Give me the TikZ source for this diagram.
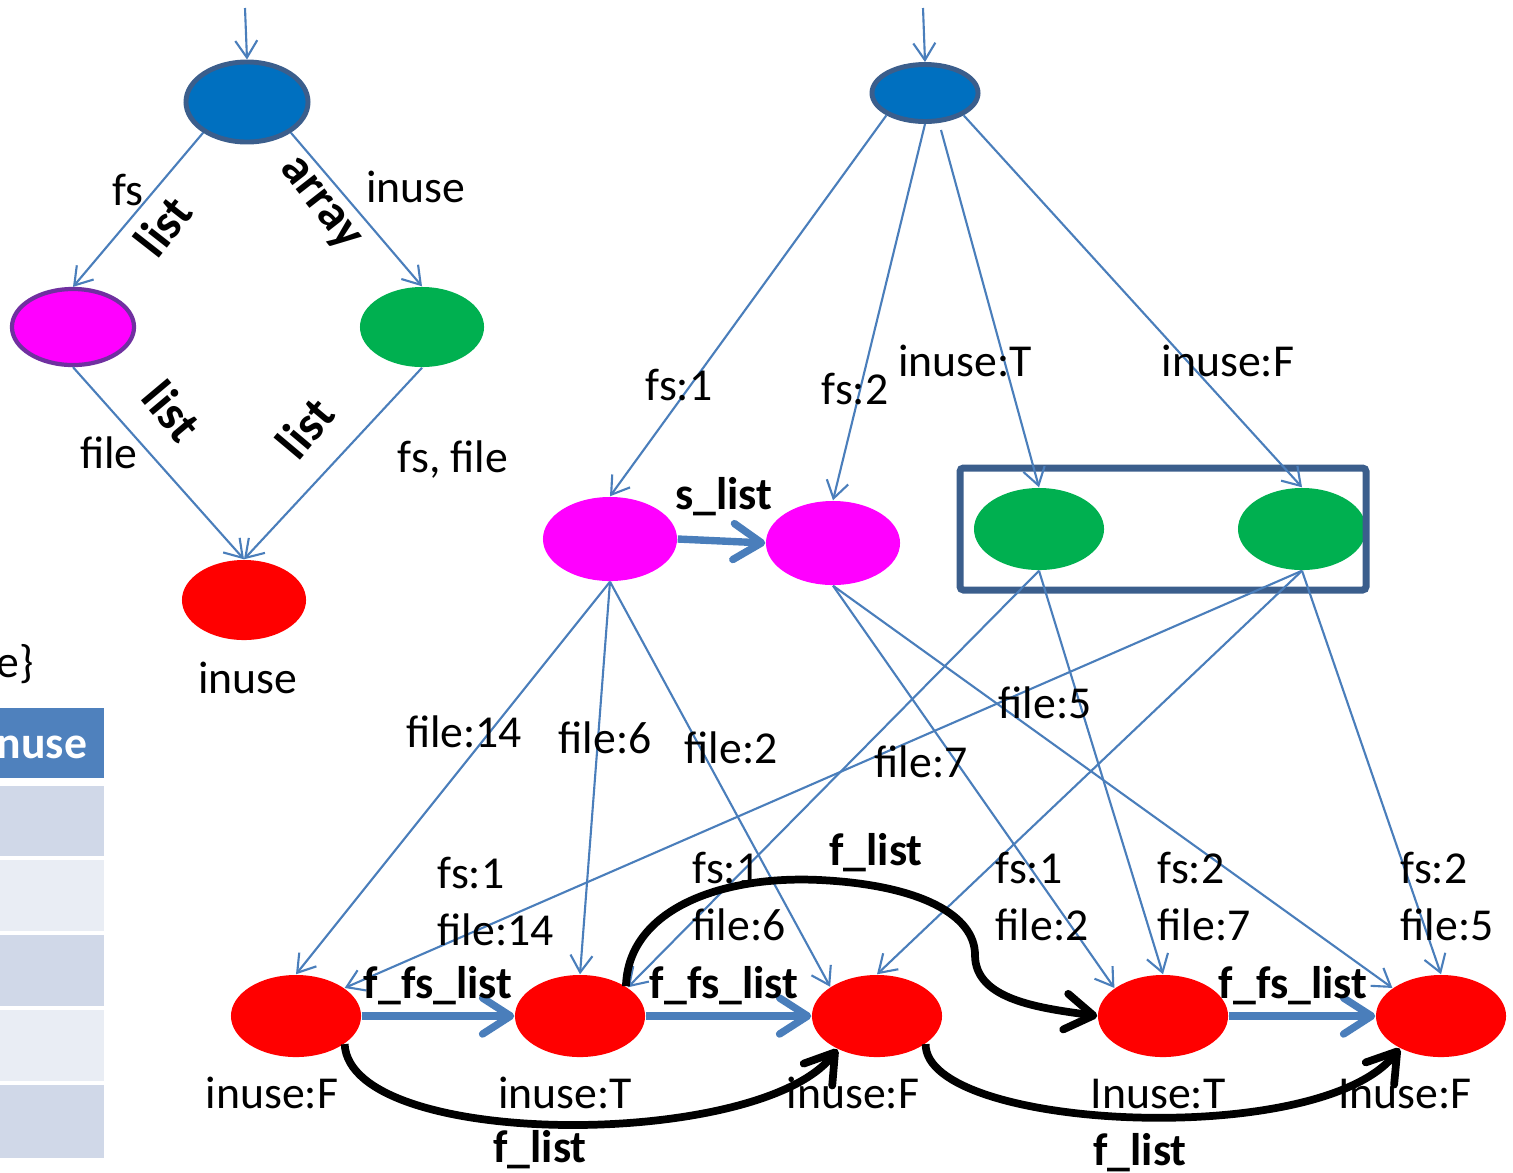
\documentclass[tikz,border=0pt]{standalone}
\usepackage{fontspec}
\setmainfont{Carlito}
\usetikzlibrary{shapes,arrows.meta,positioning,calc}

\definecolor{rootblue}{HTML}{0070C0}
\definecolor{rimblue}{HTML}{3B5E8C}
\definecolor{fsmag}{HTML}{FF00FF}
\definecolor{fsrim}{HTML}{7030A0}
\definecolor{inusegreen}{HTML}{00B050}
\definecolor{filered}{HTML}{FF0000}
\definecolor{edgeblue}{HTML}{4A7EBB}
\definecolor{hdrblue}{HTML}{4F81BD}
\definecolor{rowdark}{HTML}{D0D8E8}
\definecolor{rowlight}{HTML}{E9EDF4}

\tikzset{
    obj/.style={ellipse, inner sep=0pt, minimum width=1.3cm, minimum height=0.82cm},
    rootobj/.style={obj, fill=rootblue, draw=rimblue, line width=1.4pt},
    fsobj/.style={obj, fill=fsmag},
    inuseobj/.style={obj, fill=inusegreen},
    fileobj/.style={obj, fill=filered},
    ptr/.style={draw=edgeblue, line width=0.6pt,
        -{Straight Barb[length=1.7mm,width=2.2mm]}},
    nextptr/.style={draw=edgeblue, line width=2.1pt,
        -{Straight Barb[length=2.8mm,width=3.6mm,round]}},
    flist/.style={draw=black, line width=2.2pt,
        -{Straight Barb[length=2.8mm,width=3.6mm,round]}},
    lbl/.style={font=\fontsize{13}{16}\selectfont, inner sep=0pt},
    blbl/.style={lbl, font=\fontsize{13}{16}\selectfont\bfseries},
    rlbl/.style={lbl, font=\fontsize{14}{16}\selectfont\bfseries},
}

\begin{document}
\begin{tikzpicture}[x=0.01cm, y=-0.01cm]
    \useasboundingbox (0,0) rectangle (1513,1172);

    % table stub on the left
    \fill[hdrblue] (-5,708) rectangle (104,778);
    \fill[rowdark] (-5,786) rectangle (104,856);
    \fill[rowlight] (-5,860) rectangle (104,931);
    \fill[rowdark] (-5,935) rectangle (104,1006);
    \fill[rowlight] (-5,1010) rectangle (104,1081);
    \fill[rowdark] (-5,1085) rectangle (104,1158);
    \node[blbl, white, anchor=base] (hdr) at (42,758) {nuse};
    \node[lbl, anchor=base] (brace) at (15,677) {e\}};

    % schema graph
    \coordinate (entryS) at (245,8);
    \node[rootobj, minimum width=1.22cm, minimum height=0.8cm] (rootS) at (247,102) {};
    \node[fsobj, draw=fsrim, line width=1.2pt, minimum width=1.22cm,
        minimum height=0.76cm] (fsS) at (73,327) {};
    \node[inuseobj, minimum width=1.24cm, minimum height=0.8cm] (inuseS) at (422,327) {};
    \node[fileobj, minimum width=1.24cm, minimum height=0.8cm] (fileS) at (244,600) {};

    \draw[ptr] (entryS) -- (rootS.north);
    \draw[ptr] (rootS.-145) -- (fsS.north);
    \draw[ptr] (rootS.-35) -- (inuseS.north);
    \draw[ptr] (fsS.south) -- (fileS.north);
    \draw[ptr] (inuseS.south) -- (fileS.north);

    \node[lbl, anchor=base] (lfs) at (128,205) {fs};
    \node[rlbl, rotate=52] (lfslist) at (163,226) {list};
    \node[rlbl, rotate=-52] (linarr) at (318,205) {array};
    \node[lbl, anchor=base] (linuse) at (416,202) {inuse};
    \node[rlbl, rotate=-50] (lfilelist) at (172,411) {list};
    \node[lbl, anchor=base] (lfile) at (109,468) {file};
    \node[rlbl, rotate=50] (linlist) at (305,428) {list};
    \node[lbl, anchor=base] (lfsfile) at (453,472) {fs, file};
    \node[lbl, anchor=base] (lfileS) at (248,693) {inuse};

    % instance graph
    \coordinate (entry) at (923,8);
    \coordinate (rootGap) at (941,130);
    \node[rootobj, minimum width=1.06cm, minimum height=0.57cm] (root) at (925,93) {};
    \node[fsobj, minimum width=1.34cm, minimum height=0.84cm] (fs1) at (610,539) {};
    \node[fsobj, minimum width=1.34cm, minimum height=0.84cm] (fs2) at (833,543) {};
    \node[inuseobj] (inT) at (1039,529) {};
    \node[inuseobj, minimum width=1.28cm] (inF) at (1302,529) {};
    \draw[rimblue, line width=2pt, rounded corners=1pt] (960,468) rectangle (1366,590);

    \node[fileobj] (f14) at (296,1016) {};
    \node[fileobj] (f6) at (580,1016) {};
    \node[fileobj] (f2) at (877,1016) {};
    \node[fileobj] (f7) at (1163,1016) {};
    \node[fileobj] (f5) at (1441,1016) {};

    \draw[ptr] (entry) -- (root.north);
    \draw[ptr] (root.-150) -- (fs1.north);
    \draw[ptr] (root.south) -- (fs2.north);
    \draw[ptr] (rootGap) -- (inT.north);
    \draw[ptr] (root.-30) -- (inF.north);
    \draw[nextptr] (fs1.east) -- (fs2.west);

    \draw[ptr] (fs1.south) -- (f14.north);
    \draw[ptr] (fs1.south) -- (f6.north);
    \draw[ptr] (fs1.south) -- (f2.148);
    \draw[ptr] (fs2.south) -- (f7.150);
    \draw[ptr] (fs2.south) -- (f5.150);
    \draw[ptr] (inT.south) -- (f6.31);
    \draw[ptr] (inT.south) -- (f7.north);
    \draw[ptr] (inF.south) -- (f14.30);
    \draw[ptr] (inF.south) -- (f2.north);
    \draw[ptr] (inF.south) -- (f5.north);

    \draw[nextptr] (f14.east) -- (f6.west);
    \draw[nextptr] (f6.east) -- (f2.west);
    \draw[nextptr] (f7.east) -- (f5.west);

    % free / used lists
    \draw[flist] (f14.-30) .. controls (350,1150) and (760,1150) .. (f2.-140);
    \draw[flist] (f6.33) .. controls (628,910) and (720,875) .. (820,880)
        .. controls (920,885) and (975,915) .. (975,955)
        .. controls (975,1000) and (1040,1008) .. (f7.west);
    \draw[flist] (f2.-30) .. controls (925,1130) and (1320,1150) .. (f5.-142);

    \node[lbl, anchor=base] (lfs1) at (679,400) {fs:1};
    \node[lbl, anchor=base] (lfs2) at (855,404) {fs:2};
    \node[lbl, anchor=base] (linT) at (965,376) {inuse:T};
    \node[lbl, anchor=base] (linF) at (1228,376) {inuse:F};
    \node[blbl, anchor=base] (lslist) at (724,509) {s\_list};

    \node[lbl, anchor=base] (lf14) at (464,747) {file:14};
    \node[lbl, anchor=base] (lf6) at (605,753) {file:6};
    \node[lbl, anchor=base] (lf2) at (731,763) {file:2};
    \node[lbl, anchor=base] (lf7) at (921,777) {file:7};
    \node[lbl, anchor=base] (lf5) at (1045,718) {file:5};

    % field values of each file
    \foreach \x/\y/\s/\f [count=\i] in
        {437/888/1/14, 692/883/1/6, 995/883/1/2, 1157/883/2/7, 1400/883/2/5} {
        \node[lbl, anchor=base west] (vfs\i) at (\x,\y) {fs:\s};
        \node[lbl, anchor=base west] (vfile\i) at (\x,\y+57) {file:\f};
    }

    \node[blbl, anchor=base] (lnext1) at (438,998) {f\_fs\_list};
    \node[blbl, anchor=base] (lnext2) at (724,998) {f\_fs\_list};
    \node[blbl, anchor=base] (lnext3) at (1293,998) {f\_fs\_list};
    \node[blbl, anchor=base] (lflist1) at (876,865) {f\_list};
    \node[blbl, anchor=base] (lflist2) at (540,1162) {f\_list};
    \node[blbl, anchor=base] (lflist3) at (1140,1165) {f\_list};

    \node[lbl, anchor=base] (u14) at (272,1108) {inuse:F};
    \node[lbl, anchor=base] (u6) at (565,1108) {inuse:T};
    \node[lbl, anchor=base] (u2) at (853,1108) {inuse:F};
    \node[lbl, anchor=base] (u7) at (1158,1108) {Inuse:T};
    \node[lbl, anchor=base] (u5) at (1405,1108) {Inuse:F};
\end{tikzpicture}
\end{document}
